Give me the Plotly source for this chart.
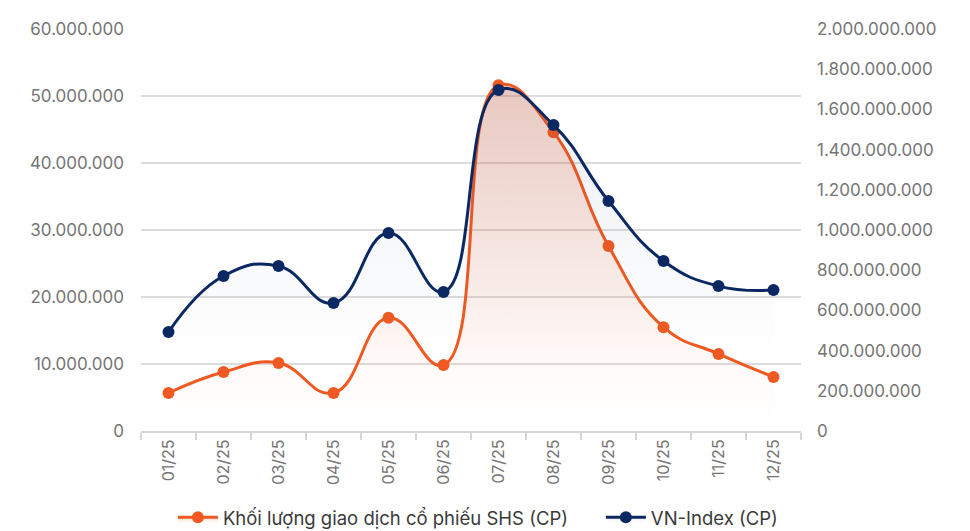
import plotly.graph_objects as go

months = ["01/25", "02/25", "03/25", "04/25", "05/25", "06/25",
          "07/25", "08/25", "09/25", "10/25", "11/25", "12/25"]
shs_volume = [5_670_000, 8_800_000, 10_150_000, 5_670_000, 16_900_000, 9_850_000,
              51_600_000, 44_600_000, 27_600_000, 15_500_000, 11_500_000, 8_060_000]
vnindex_volume = [492_000_000, 771_000_000, 821_000_000, 637_000_000, 985_000_000, 692_000_000,
                  1_697_000_000, 1_522_000_000, 1_144_000_000, 846_000_000, 721_000_000, 701_000_000]

name_shs = "Khối lượng giao dịch cổ phiếu SHS (CP)"
name_vni = "VN-Index (CP)"

ORANGE = "#F05A22"
NAVY = "#0B2862"
FONT = "Inter"

fig = go.Figure()
fig.add_trace(go.Scatter(
    x=months, y=shs_volume, name=name_shs, yaxis="y", legend="legend",
    mode="lines+markers",
    line=dict(color=ORANGE, width=3, shape="spline", smoothing=1.3),
    marker=dict(color=ORANGE, size=12),
    fill="tozeroy",
    fillgradient=dict(type="vertical", start=0, stop=52_000_000,
                      colorscale=[[0, "rgba(240,90,34,0.0)"], [0.15, "rgba(240,90,34,0.02)"],
                                  [1, "rgba(240,90,34,0.25)"]]),
))
fig.add_trace(go.Scatter(
    x=months, y=vnindex_volume, name=name_vni, yaxis="y2", legend="legend2",
    mode="lines+markers",
    line=dict(color=NAVY, width=3, shape="spline", smoothing=1.3),
    marker=dict(color=NAVY, size=12),
    fill="tozeroy",
    fillgradient=dict(type="vertical", start=0, stop=1_700_000_000,
                      colorscale=[[0, "rgba(11,40,98,0.0)"], [0.22, "rgba(11,40,98,0.0)"],
                                  [1, "rgba(11,40,98,0.08)"]]),
))

legend_common = dict(orientation="h", xref="container", xanchor="left",
                     y=0.04, yref="container", yanchor="middle",
                     font=dict(family=FONT, size=18.5, color="#3a3a3a"),
                     itemwidth=40, bgcolor="rgba(0,0,0,0)")

fig.update_layout(
    width=970, height=531,
    margin=dict(l=133, r=177, t=21, b=108, autoexpand=False),
    paper_bgcolor="white", plot_bgcolor="white",
    separators=",.",
    font=dict(family=FONT, size=17, color="#757575"),
    showlegend=True,
    legend=dict(x=0.17, **legend_common),
    legend2=dict(x=0.6112, **legend_common),
    xaxis=dict(
        type="category", tickangle=-90, tickson="boundaries",
        ticks="outside", ticklen=7, tickcolor="#d6d6d6", tickwidth=1.5,
        showline=True, linecolor="#d6d6d6", linewidth=2,
        showgrid=False, tickfont=dict(size=16, color="#757575"),
        range=[-0.5, 11.5], automargin=False,
    ),
    yaxis=dict(
        range=[0, 60_000_000], dtick=10_000_000, tickformat=",d",
        showgrid=True, gridcolor="#dcdcdc", gridwidth=1.5,
        zeroline=False, ticks="", ticklabelstandoff=16, automargin=False,
        tickfont=dict(size=17, color="#757575"),
    ),
    yaxis2=dict(
        range=[0, 2_000_000_000], dtick=200_000_000, tickformat=",d",
        overlaying="y", side="right", showgrid=False, zeroline=False,
        ticks="", ticklabelstandoff=15, automargin=False,
        tickfont=dict(size=17, color="#757575"),
    ),
)

fig.write_html("out.html")
